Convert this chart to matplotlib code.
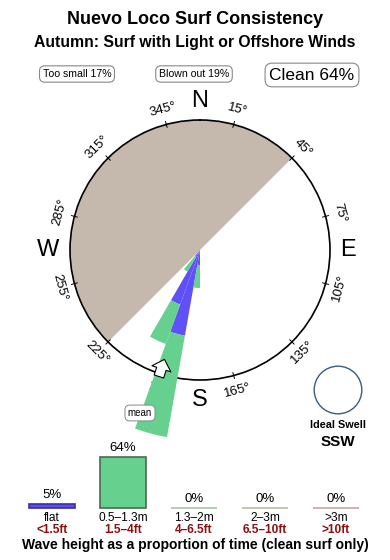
import numpy as np
import matplotlib
matplotlib.use('Agg')
import matplotlib.pyplot as plt
from matplotlib.patches import Circle

plt.rcParams['font.family'] = ['Liberation Sans', 'DejaVu Sans']

# rose data (10 degree bins, radius in chart units, circle = 130)
bin_dirs = [185, 195, 205, 215]
flat_r = [15, 87, 58, 8]
clean_r = [38, 190, 100, 25]
mean_dir = 198
offshore_start, offshore_end = 225, 405   # blown out sector
tick_dirs = [15, 45, 75, 105, 135, 165, 195, 225, 255, 285, 315, 345]

# wave height summary
cats = ['flat', '0.5\u20131.3m', '1.3\u20132m', '2\u20133m', '>3m']
feet = ['<1.5ft', '1.5\u20134ft', '4\u20136.5ft', '6.5\u201310ft', '>10ft']
pct = [5, 64, 0, 0, 0]
bar_fc = ['#5b4cf0', '#66d18f', '#a6c4a4', '#bcbc98', '#caa4a2']
bar_ec = ['#3a30a0', '#4a6a52', '#a6c4a4', '#bcbc98', '#caa4a2']

col_flat = '#6050f8'
col_clean = '#66d18f'
col_grey = '#c5b9ad'
rmax = 130

fig = plt.figure(figsize=(3.9, 5.6), dpi=100)

fig.text(0.5, 1 - 20/560, 'Nuevo Loco Surf Consistency', ha='center', va='center',
         fontsize=13, fontweight='bold')
fig.text(0.5, 1 - 43/560, 'Autumn: Surf with Light or Offshore Winds', ha='center', va='center',
         fontsize=11.3, fontweight='bold')

box = dict(boxstyle='round,pad=0.3,rounding_size=0.5', fc='white', ec='#888888', lw=0.8)
fig.text(77/390, 1 - 74/560, 'Too small 17%', ha='center', va='center', fontsize=7.6, bbox=box)
fig.text(194/390, 1 - 74/560, 'Blown out 19%', ha='center', va='center', fontsize=7.6, bbox=box)
fig.text(312/390, 1 - 75/560, 'Clean 64%', ha='center', va='center', fontsize=12.5,
         bbox=dict(boxstyle='round,pad=0.25,rounding_size=0.4', fc='white', ec='#888888', lw=0.8))

# compass rose
ax = fig.add_axes([70/390, 1 - 380/560, 260/390, 260/560], projection='polar')
ax.set_theta_zero_location('N')
ax.set_theta_direction(-1)
ax.set_ylim(0, rmax)
ax.grid(False)
ax.set_xticks([])
ax.set_yticks([])
ax.spines['polar'].set_linewidth(1.2)
ax.patch.set_alpha(0)

w = np.deg2rad(offshore_end - offshore_start)
ax.bar(np.deg2rad((offshore_start + offshore_end) / 2), rmax, width=w, color=col_grey,
       edgecolor='none', zorder=1)

for d in tick_dirs:
    t = np.deg2rad(d)
    ax.plot([t, t], [rmax - 3, rmax + 3], color='black', lw=0.7, clip_on=False, zorder=2)
    rot = -d
    if 90 < d < 270:
        rot += 180
    ax.text(t, rmax + 15, '%d\u00b0' % d, rotation=rot, rotation_mode='anchor',
            ha='center', va='center', fontsize=9.5, zorder=2)

th = np.deg2rad(bin_dirs)
bw = np.deg2rad(10)
ax.bar(th, flat_r, width=bw, color=col_flat, edgecolor='none', zorder=5, clip_on=False)
ax.bar(th, np.array(clean_r) - np.array(flat_r), bottom=flat_r, width=bw, color=col_clean,
       edgecolor='none', zorder=5, clip_on=False)

for lab, d, r in [('N', 0, 149), ('E', 90, 148), ('S', 180, 150), ('W', 270, 152)]:
    ax.text(np.deg2rad(d), r, lab, ha='center', va='center', fontsize=17)

tm = np.deg2rad(mean_dir)
ax.annotate('', xy=(tm, 115), xytext=(tm, 133), annotation_clip=False,
            arrowprops=dict(arrowstyle='simple,head_length=0.55,head_width=1.1,tail_width=0.55',
                            fc='white', ec='black', lw=0.8, shrinkA=0, shrinkB=0,
                            mutation_scale=13), zorder=6)
fig.text(140/390, 1 - 413/560, 'mean', ha='center', va='center', fontsize=7,
         bbox=dict(boxstyle='round,pad=0.3,rounding_size=0.5', fc='white', ec='#888888', lw=0.7),
         zorder=7)

# ideal swell marker
ax2 = fig.add_axes([313/390, 1 - 415/560, 50/390, 50/560])
ax2.set_xlim(-1.05, 1.05)
ax2.set_ylim(-1.05, 1.05)
ax2.set_aspect('equal')
ax2.axis('off')
ax2.add_patch(Circle((0, 0), 1, fill=False, ec='#3a5a80', lw=1))
fig.text(338/390, 1 - 425/560, 'Ideal Swell', ha='center', va='center', fontsize=7.8,
         fontweight='bold')
fig.text(338/390, 1 - 442/560, 'SSW', ha='center', va='center', fontsize=11,
         fontweight='bold')

# wave height bars
ax3 = fig.add_axes([16.5/390, 1 - 508/560, 355/390, 80/560])
ax3.set_xlim(-0.5, 4.5)
ax3.set_ylim(0, 100)
ax3.axis('off')
x = np.arange(len(cats))
ax3.bar(x, pct, width=0.64, color=bar_fc, edgecolor=bar_ec, lw=1.2, clip_on=False)
for i in range(len(cats)):
    ax3.annotate('%d%%' % pct[i], (x[i], pct[i]), xytext=(0, 6.5), textcoords='offset points',
                 ha='center', va='center', fontsize=9.5)
    ax3.text(x[i], -12, cats[i], ha='center', va='center', fontsize=8.6)
    ax3.text(x[i], -27, feet[i], ha='center', va='center', fontsize=8.6, color='#8b1010',
             fontweight='bold')

fig.text(0.5, 1 - 545/560, 'Wave height as a proportion of time (clean surf only)',
         ha='center', va='center', fontsize=10, fontweight='bold')

fig.savefig('out.png', dpi=100)
